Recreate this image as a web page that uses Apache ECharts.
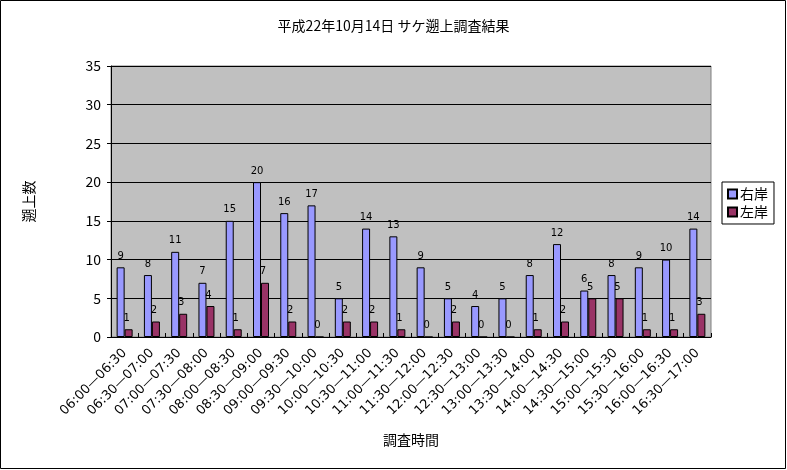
<!DOCTYPE html>
<html>
<head>
<meta charset="utf-8">
<script src="https://cdn.jsdelivr.net/npm/echarts@6/dist/echarts.min.js"></script>
<style>
html,body{margin:0;padding:0;background:#fff;}
#main{width:787px;height:470px;}
</style>
</head>
<body>
<div id="main"></div>
<script>
// データ
var categories = ["06:00—06:30","06:30—07:00","07:00—07:30","07:30—08:00","08:00—08:30","08:30—09:00",
    "09:00—09:30","09:30—10:00","10:00—10:30","10:30—11:00","11:00—11:30","11:30—12:00",
    "12:00—12:30","12:30—13:00","13:00—13:30","13:30—14:00","14:00—14:30","14:30—15:00",
    "15:00—15:30","15:30—16:00","16:00—16:30","16:30—17:00"];
var rightBank = [9, 8, 11, 7, 15, 20, 16, 17, 5, 14, 13, 9, 5, 4, 5, 8, 12, 6, 8, 9, 10, 14];
var leftBank  = [1, 2, 3, 4, 1, 7, 2, 0, 2, 2, 1, 0, 2, 0, 0, 1, 2, 5, 5, 1, 1, 3];
var yTicks = [0, 5, 10, 15, 20, 25, 30, 35];

var font = '"Noto Sans CJK JP", sans-serif';

var myChart = echarts.init(document.getElementById('main'), null, {renderer: 'canvas'});

var option = {
    animation: false,
    textStyle: {fontFamily: font, color: '#000'},
    title: {
        text: '平成22年10月14日 サケ遡上調査結果',
        left: 'center',
        top: 14,
        textStyle: {fontSize: 14, fontWeight: 'normal', color: '#000', fontFamily: font}
    },
    graphic: [{
        type: 'rect',
        shape: {x: 0.5, y: 0.5, width: 785, height: 468},
        style: {fill: 'none', stroke: '#000', lineWidth: 1},
        silent: true
    }],
    legend: {
        orient: 'vertical',
        left: 722,
        top: 182,
        padding: [5, 6, 5, 5],
        itemWidth: 9,
        itemHeight: 9,
        itemGap: 4,
        borderColor: '#000',
        borderWidth: 1,
        icon: 'rect',
        textStyle: {fontSize: 14, color: '#000', fontFamily: font, padding: [0, 0, 0, -2]},
        data: ['右岸', '左岸']
    },
    grid: {
        left: 111,
        top: 66,
        width: 600,
        height: 271,
        show: true,
        backgroundColor: '#c0c0c0',
        borderColor: '#808080',
        borderWidth: 1
    },
    xAxis: {
        type: 'category',
        data: categories,
        name: '調査時間',
        nameLocation: 'middle',
        nameGap: 96,
        nameTextStyle: {fontSize: 14, color: '#000', fontFamily: font},
        axisLine: {lineStyle: {color: '#000'}},
        axisTick: {show: true, inside: true, length: 4, lineStyle: {color: '#000'}},
        axisLabel: {rotate: 45, fontSize: 13, color: '#000', interval: 0, margin: 14, fontFamily: 'DejaVu Sans'}
    },
    yAxis: {
        type: 'value',
        min: yTicks[0],
        max: yTicks[yTicks.length - 1],
        interval: 5,
        name: '遡上数',
        nameLocation: 'middle',
        nameRotate: 90,
        nameGap: 75,
        nameTextStyle: {fontSize: 14, color: '#000', fontFamily: font},
        axisLine: {show: true, lineStyle: {color: '#000'}},
        axisTick: {show: true, length: 4, lineStyle: {color: '#000'}},
        axisLabel: {fontSize: 14, color: '#000', margin: 10, fontFamily: font},
        splitLine: {lineStyle: {color: '#000', width: 1}}
    },
    series: [
        {
            name: '右岸',
            type: 'bar',
            data: rightBank,
            barWidth: 8,
            barGap: '0%',
            itemStyle: {color: '#9999ff', borderColor: '#000', borderWidth: 1},
            label: {show: true, position: 'top', fontSize: 10, color: '#000', distance: 6, fontFamily: 'DejaVu Sans'}
        },
        {
            name: '左岸',
            type: 'bar',
            data: leftBank,
            barWidth: 8,
            itemStyle: {color: '#993366', borderColor: '#000', borderWidth: 1},
            label: {show: true, position: 'top', fontSize: 10, color: '#000', distance: 6, offset: [-2, 0], fontFamily: 'DejaVu Sans'}
        }
    ]
};

myChart.setOption(option);

window.addEventListener('resize', function () {
    myChart.resize();
});
</script>
</body>
</html>
